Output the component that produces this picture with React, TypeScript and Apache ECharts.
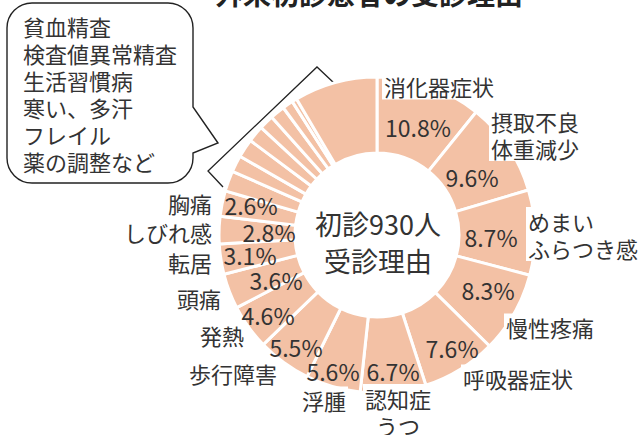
import React, { useEffect, useRef } from "react";
import * as echarts from "echarts";

const TITLE = "外来初診患者の受診理由";
const CENTER_LINES = ["初診930人", "受診理由"];
const BUBBLE_LINES = ["貧血精査", "検査値異常精査", "生活習慣病", "寒い、多汗", "フレイル", "薬の調整など"];

// clockwise from 12 o'clock
const NAMES = [
  "消化器症状", "摂取不良\n体重減少", "めまい\nふらつき感", "慢性疼痛", "呼吸器症状",
  "認知症\nうつ", "浮腫", "歩行障害", "発熱", "頭痛", "転居", "しびれ感", "胸痛",
  "その他1", "その他2", "その他3", "その他4", "その他5", "その他6", "その他7", "その他8", "その他9",
];
const VALUES = [
  10.8, 9.6, 8.7, 8.3, 7.6, 6.7, 5.6, 5.5, 4.6, 3.6, 3.1, 2.8, 2.6,
  2.1, 1.7, 1.9, 1.7, 1.5, 1.5, 1.1, 0.5, 8.5,
];
const LABELLED = 13; // first N slices carry labels

// label anchor positions (text layout only)
const PCT_POS: [number, number][] = [
  [418, 127], [472, 177], [491, 237], [488, 290], [452, 348], [393, 371], [333, 371],
  [296, 347], [268, 315], [276, 280], [250, 255], [269, 232], [251, 205],
];
const NAME_POS: [number, number, string][] = [
  [382, 86, "left"], [489, 134, "left"], [526, 234, "left"], [504, 327, "left"],
  [461, 378, "left"], [398, 411, "center"], [324, 400, "center"], [279, 373, "right"],
  [246, 335, "right"], [223, 298, "right"], [214, 262, "right"], [214, 232, "right"],
  [214, 203, "right"],
];

const FONT = "'Noto Sans CJK JP', 'Noto Sans', sans-serif";
const TEXT = "#333333";
const FILL = "#F3C1A5";

const BUBBLE_D =
  "M32 3 H168 A25 25 0 0 1 193 28 V107 L218 143 L193 153 V158 A25 25 0 0 1 168 183 H32 A25 25 0 0 1 7 158 V28 A25 25 0 0 1 32 3 Z";
echarts.graphic.registerShape("bubble", echarts.graphic.extendPath(BUBBLE_D, {}));

export default function App() {
  const ref = useRef<HTMLDivElement>(null);
  useEffect(() => {
    if (!ref.current) return;
    const chart = echarts.init(ref.current, null, { renderer: "svg" });
    const data = NAMES.map((n, i) => ({
      name: n,
      value: VALUES[i],
      label: { show: i < LABELLED },
    }));
    chart.setOption({
      animation: false,
      backgroundColor: "#ffffff",
      textStyle: { fontFamily: FONT },
      series: [
        {
          type: "pie",
          center: [377, 235],
          radius: [82, 158],
          startAngle: 90,
          clockwise: true,
          silent: true,
          z: 2,
          itemStyle: { color: FILL, borderColor: "#ffffff", borderWidth: 3 },
          label: {
            position: "inside",
            fontFamily: FONT,
            fontSize: 23,
            color: TEXT,
            formatter: (p: any) => p.value.toFixed(1) + "%",
          },
          labelLine: { show: false },
          labelLayout: (p: any) => {
            const pos = PCT_POS[p.dataIndex];
            if (!pos) return {};
            return { x: pos[0], y: pos[1], align: "center", verticalAlign: "middle" };
          },
          emphasis: { disabled: true },
          data,
        },
        {
          type: "pie",
          center: [377, 235],
          radius: [82, 158],
          startAngle: 90,
          clockwise: true,
          silent: true,
          z: 3,
          itemStyle: { color: "rgba(0,0,0,0)", borderWidth: 0 },
          label: {
            position: "inside",
            overflow: "none",
            fontFamily: FONT,
            fontSize: 22,
            lineHeight: 27,
            color: TEXT,
            backgroundColor: "#ffffff",
            padding: [0, 2],
            formatter: (p: any) => p.name,
          },
          labelLine: { show: false },
          labelLayout: (p: any) => {
            const pos = NAME_POS[p.dataIndex];
            if (!pos) return {};
            return { x: pos[0], y: pos[1], align: pos[2], verticalAlign: "middle" };
          },
          emphasis: { disabled: true },
          data,
        },
      ],
      graphic: [
        {
          type: "text",
          x: 369,
          y: -7,
          style: {
            text: TITLE,
            fontFamily: FONT,
            fontSize: 28,
            fontWeight: "bold",
            fill: "#222222",
            align: "center",
            verticalAlign: "middle",
          },
        },
        {
          type: "text",
          x: 378,
          y: 223,
          style: { text: CENTER_LINES[0], fontFamily: FONT, fontSize: 27, fill: TEXT, align: "center", verticalAlign: "middle" },
        },
        {
          type: "text",
          x: 378,
          y: 260,
          style: { text: CENTER_LINES[1], fontFamily: FONT, fontSize: 27, fill: TEXT, align: "center", verticalAlign: "middle" },
        },
        {
          type: "bubble",
          x: 0,
          y: 0,
          style: { fill: "#ffffff", stroke: "#222222", lineWidth: 1.4 },
        },
        {
          type: "text",
          x: 23,
          y: 12,
          style: {
            text: BUBBLE_LINES.join("\n"),
            fontFamily: FONT,
            fontSize: 22,
            lineHeight: 27,
            fill: TEXT,
            align: "left",
            verticalAlign: "top",
          },
        },
        {
          type: "polyline",
          shape: { points: [[223, 187], [208, 171], [317, 67], [334, 83]] },
          style: { fill: "none", stroke: "#222222", lineWidth: 1.3 },
        },
      ],
    });
    return () => chart.dispose();
  }, []);
  return <div ref={ref} style={{ position: "absolute", left: 0, top: 0, width: 638, height: 435 }} />;
}
